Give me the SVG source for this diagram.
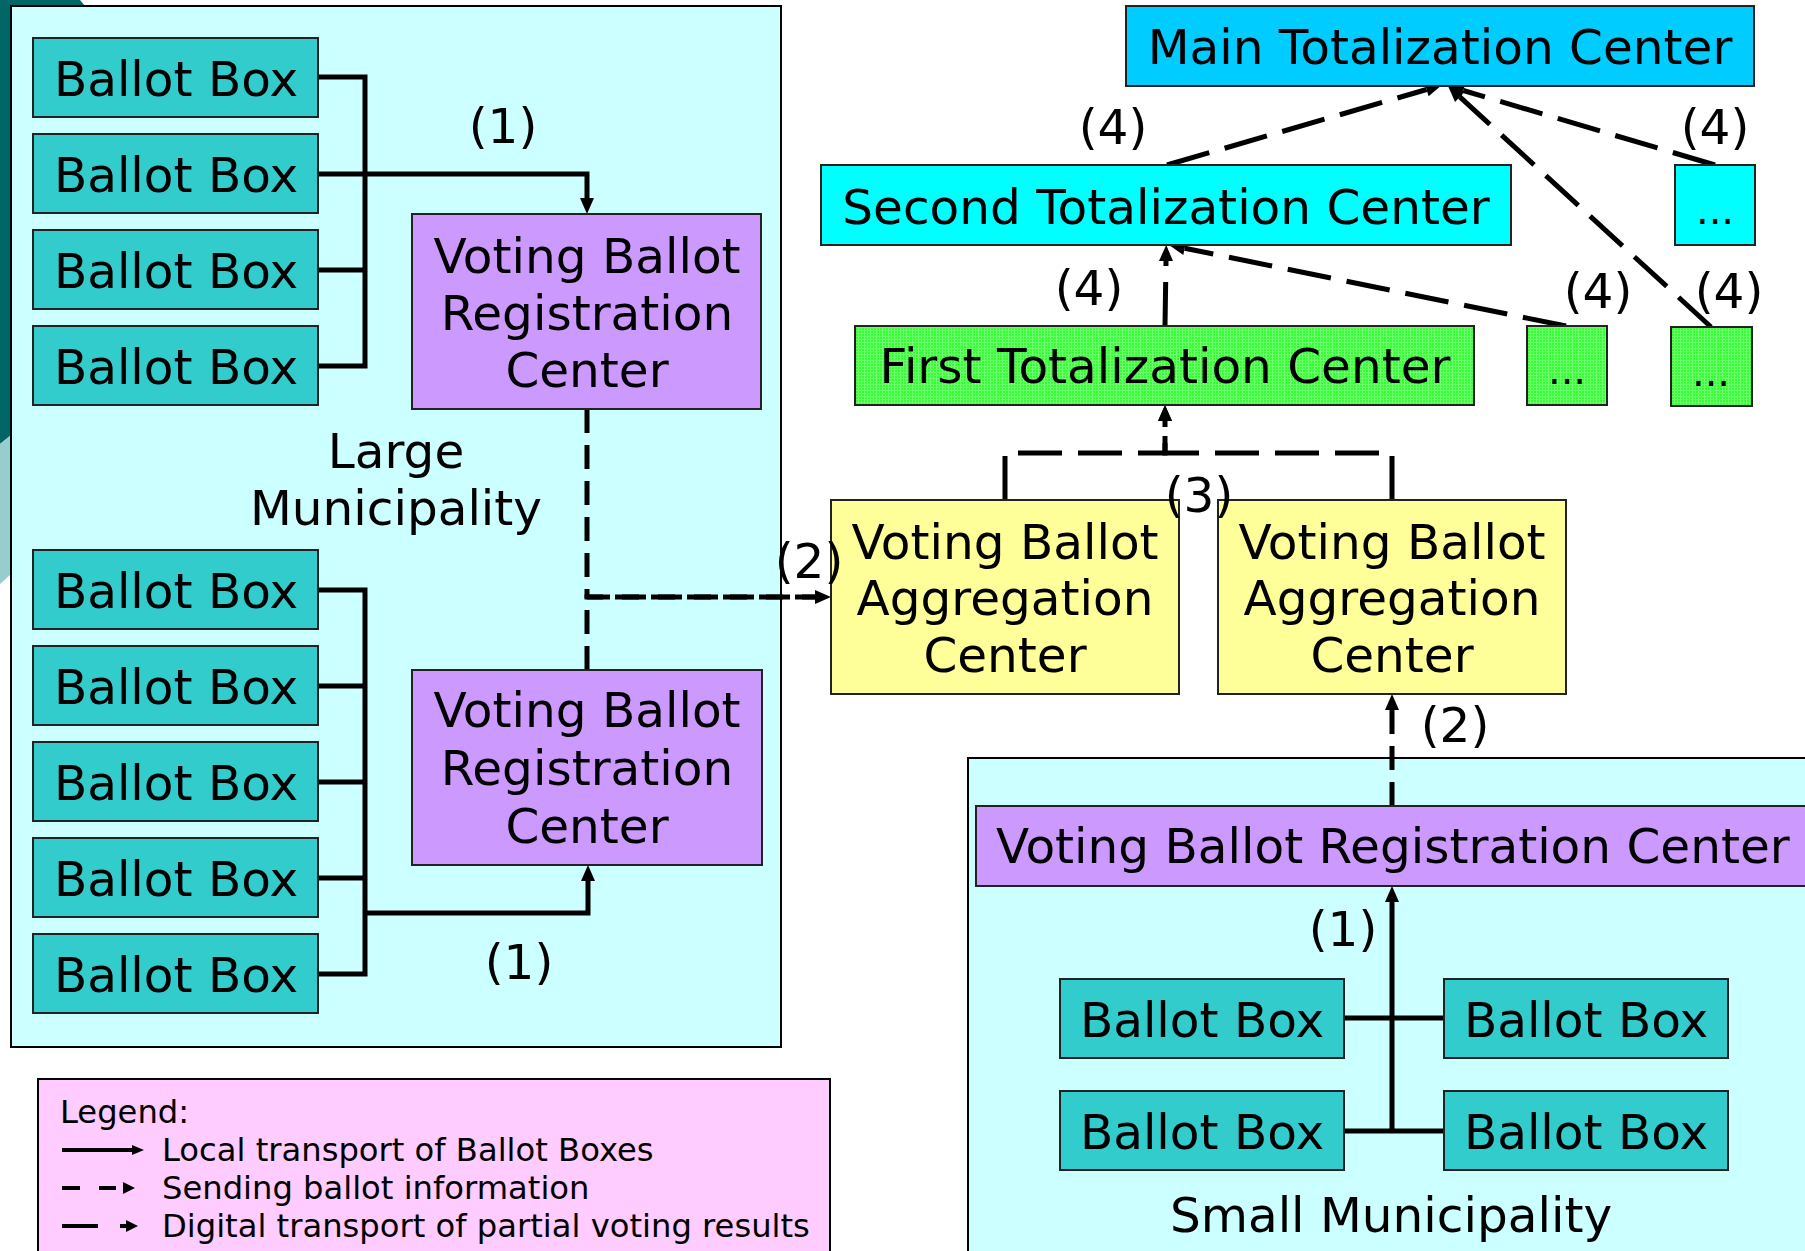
<svg xmlns="http://www.w3.org/2000/svg" width="1805" height="1251" viewBox="0 0 1805 1251">
<style>
text{font-family:"DejaVu Sans",Verdana,sans-serif;fill:#000}
.t{font-size:48.5px;text-anchor:middle}
.ts{font-size:48.5px}
.lg{font-size:32.2px}
.dot{font-size:40px;text-anchor:middle}
.box{stroke:#222;stroke-width:2}
.bb{fill:#33CCCC}
.pu{fill:#CC99FF}
.ye{fill:#FFFF99}
.muni{fill:#CCFFFF;stroke:#000;stroke-width:2}
.ln{fill:none;stroke:#000;stroke-width:5}
.sd{fill:none;stroke:#000;stroke-width:5;stroke-dasharray:24 12}
.ld{fill:none;stroke:#000;stroke-width:5;stroke-dasharray:44 16}
</style>
<defs>
<marker id="ar" markerUnits="userSpaceOnUse" markerWidth="18" markerHeight="16" refX="0" refY="7" orient="auto" overflow="visible">
<path d="M0,0 L16,7 L0,14 Z" fill="#000"/>
</marker>
<pattern id="gp" width="3" height="3" patternUnits="userSpaceOnUse">
<rect width="3" height="3" fill="#33FF33"/>
<rect width="1" height="3" fill="#77FF77"/>
<rect width="3" height="1" fill="#66FF66"/>
</pattern>
</defs>
<rect width="1805" height="1251" fill="#fff"/>
<!-- background decoration -->
<path d="M0,0 L80,0 L90,12 L20,12 L20,428 L0,444 Z" fill="#006666"/>
<path d="M0,444 L20,428 L20,566 L0,584 Z" fill="#99CCCC"/>

<g id="large-municipality">
<rect class="muni" x="11" y="6" width="770" height="1041"/>
<text class="t" x="396" y="468">Large</text>
<text class="t" x="396" y="525">Municipality</text>
</g>
<g id="small-municipality">
<rect class="muni" x="968" y="758" width="900" height="600"/>
<text class="t" x="1391" y="1232">Small Municipality</text>
</g>
<g id="legend">
<rect x="38" y="1079" width="792" height="220" fill="#FFCCFF" stroke="#000" stroke-width="2"/>
<text class="lg" x="60" y="1123">Legend:</text>
<line x1="62" y1="1150" x2="133" y2="1150" stroke="#000" stroke-width="4"/>
<path d="M132,1145 L144,1150 L132,1155 Z" fill="#000"/>
<text class="lg" x="162" y="1161">Local transport of Ballot Boxes</text>
<line x1="62" y1="1188" x2="80" y2="1188" stroke="#000" stroke-width="4"/>
<line x1="99" y1="1188" x2="116" y2="1188" stroke="#000" stroke-width="4"/>
<path d="M123,1182 L135,1188 L123,1194 Z" fill="#000"/>
<text class="lg" x="162" y="1199">Sending ballot information</text>
<line x1="62" y1="1226" x2="98" y2="1226" stroke="#000" stroke-width="4"/>
<line x1="120" y1="1226" x2="128" y2="1226" stroke="#000" stroke-width="4"/>
<path d="M126,1220 L138,1226 L126,1232 Z" fill="#000"/>
<text class="lg" x="162" y="1237">Digital transport of partial voting results</text>
</g>

<g id="connectors">
<!-- large municipality upper group -->
<path class="ln" d="M318,77 H365 V366 H318 M318,270 H365"/>
<path class="ln" d="M318,174 H587 V198" marker-end="url(#ar)"/>
<!-- large municipality lower group -->
<path class="ln" d="M318,590 H365 V974 H318 M318,686 H365 M318,782 H365 M318,878 H365"/>
<path class="ln" d="M365,913 H588 V881" marker-end="url(#ar)"/>
<!-- sending ballot information (2) -->
<path class="sd" d="M587,409 V597 H815" marker-end="url(#ar)"/>
<path class="sd" d="M587,670 V597 H815"/>
<path class="sd" d="M1392,806 V710" marker-end="url(#ar)"/>
<!-- small municipality -->
<path class="ln" d="M1344,1018 H1443 M1344,1131 H1443"/>
<path class="ln" d="M1392,1131 V902" marker-end="url(#ar)"/>
<!-- (3) aggregation to first -->
<path class="ld" d="M1005,500 V453 H1165 V421" marker-end="url(#ar)"/>
<path class="ld" d="M1392,500 V453 H1165 V421" marker-end="url(#ar)"/>
<!-- (4) digital transport -->
<path class="ld" d="M1165,326 L1166,261" marker-end="url(#ar)"/>
<path class="ld" d="M1167,165 L1426.6,89.5" marker-end="url(#ar)"/>
<path class="ld" d="M1566,326 L1184.7,248.2" marker-end="url(#ar)"/>
<path class="ld" d="M1715,165 L1463.3,90.5" marker-end="url(#ar)"/>
<path class="ld" d="M1711,327 L1459.8,96.8" marker-end="url(#ar)"/>
</g>

<g id="ballot-boxes-large-upper">
<g id="bb1"><rect class="box bb" x="33" y="38" width="285" height="79"/><text class="t" x="176" y="96">Ballot Box</text></g>
<g id="bb2"><rect class="box bb" x="33" y="134" width="285" height="79"/><text class="t" x="176" y="192">Ballot Box</text></g>
<g id="bb3"><rect class="box bb" x="33" y="230" width="285" height="79"/><text class="t" x="176" y="288">Ballot Box</text></g>
<g id="bb4"><rect class="box bb" x="33" y="326" width="285" height="79"/><text class="t" x="176" y="384">Ballot Box</text></g>
</g>
<g id="ballot-boxes-large-lower">
<g id="bb5"><rect class="box bb" x="33" y="550" width="285" height="79"/><text class="t" x="176" y="608">Ballot Box</text></g>
<g id="bb6"><rect class="box bb" x="33" y="646" width="285" height="79"/><text class="t" x="176" y="704">Ballot Box</text></g>
<g id="bb7"><rect class="box bb" x="33" y="742" width="285" height="79"/><text class="t" x="176" y="800">Ballot Box</text></g>
<g id="bb8"><rect class="box bb" x="33" y="838" width="285" height="79"/><text class="t" x="176" y="896">Ballot Box</text></g>
<g id="bb9"><rect class="box bb" x="33" y="934" width="285" height="79"/><text class="t" x="176" y="992">Ballot Box</text></g>
</g>
<g id="ballot-boxes-small">
<g id="bb10"><rect class="box bb" x="1060" y="979" width="284" height="79"/><text class="t" x="1202" y="1037">Ballot Box</text></g>
<g id="bb11"><rect class="box bb" x="1444" y="979" width="284" height="79"/><text class="t" x="1586" y="1037">Ballot Box</text></g>
<g id="bb12"><rect class="box bb" x="1060" y="1091" width="284" height="79"/><text class="t" x="1202" y="1149">Ballot Box</text></g>
<g id="bb13"><rect class="box bb" x="1444" y="1091" width="284" height="79"/><text class="t" x="1586" y="1149">Ballot Box</text></g>
</g>

<g id="reg-center-upper">
<rect class="box pu" x="412" y="214" width="349" height="195"/>
<text class="t" x="587" y="273">Voting Ballot</text>
<text class="t" x="587" y="330">Registration</text>
<text class="t" x="587" y="387">Center</text>
</g>
<g id="reg-center-lower">
<rect class="box pu" x="412" y="670" width="350" height="195"/>
<text class="t" x="587" y="727">Voting Ballot</text>
<text class="t" x="587" y="785">Registration</text>
<text class="t" x="587" y="843">Center</text>
</g>
<g id="reg-center-small">
<rect class="box pu" x="976" y="806" width="900" height="80"/>
<text class="ts" x="996" y="863">Voting Ballot Registration Center</text>
</g>

<g id="aggregation-1">
<rect class="box ye" x="831" y="500" width="348" height="194"/>
<text class="t" x="1005" y="559">Voting Ballot</text>
<text class="t" x="1005" y="615">Aggregation</text>
<text class="t" x="1005" y="672">Center</text>
</g>
<g id="aggregation-2">
<rect class="box ye" x="1218" y="500" width="348" height="194"/>
<text class="t" x="1392" y="559">Voting Ballot</text>
<text class="t" x="1392" y="615">Aggregation</text>
<text class="t" x="1392" y="672">Center</text>
</g>

<g id="first-totalization">
<rect class="box" x="855" y="326" width="619" height="79" fill="url(#gp)"/>
<text class="t" x="1165" y="383">First Totalization Center</text>
</g>
<g id="first-more-a">
<rect class="box" x="1527" y="326" width="80" height="79" fill="url(#gp)"/>
<text class="dot" x="1567" y="384">...</text>
</g>
<g id="first-more-b">
<rect class="box" x="1671" y="327" width="81" height="79" fill="url(#gp)"/>
<text class="dot" x="1711" y="386">...</text>
</g>
<g id="second-totalization">
<rect class="box" x="821" y="165" width="690" height="80" fill="#00FFFF"/>
<text class="t" x="1166" y="224">Second Totalization Center</text>
</g>
<g id="second-more">
<rect class="box" x="1675" y="165" width="80" height="80" fill="#00FFFF"/>
<text class="dot" x="1715" y="224">...</text>
</g>
<g id="main-totalization">
<rect class="box" x="1126" y="6" width="628" height="80" fill="#00CCFF"/>
<text class="t" x="1440" y="64">Main Totalization Center</text>
</g>

<g id="labels">
<text class="t" x="503" y="143">(1)</text>
<text class="t" x="519" y="979">(1)</text>
<text class="t" x="809" y="578">(2)</text>
<text class="t" x="1199" y="512">(3)</text>
<text class="t" x="1113" y="144">(4)</text>
<text class="t" x="1715" y="144">(4)</text>
<text class="t" x="1089" y="305">(4)</text>
<text class="t" x="1598" y="308">(4)</text>
<text class="t" x="1729" y="308">(4)</text>
<text class="t" x="1455" y="742">(2)</text>
<text class="t" x="1343" y="946">(1)</text>
</g>
</svg>
